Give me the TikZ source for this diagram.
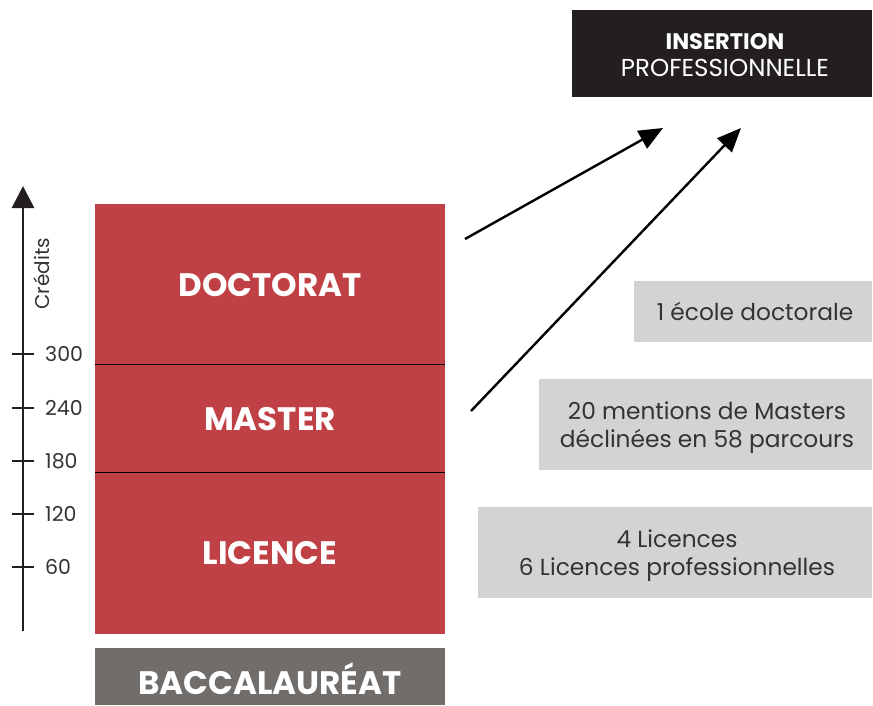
\documentclass[tikz,border=0pt]{standalone}
\usepackage{fontspec}
\setmainfont{Poppins}
\usetikzlibrary{arrows.meta}
\definecolor{cred}{HTML}{C04145}
\definecolor{cbac}{HTML}{706D6B}
\definecolor{cdark}{HTML}{231F20}
\definecolor{cgray}{HTML}{D3D3D5}
\definecolor{ctext}{HTML}{333333}
\begin{document}
\begin{tikzpicture}[x=1pt,y=-1pt,
  level/.style={font=\fontsize{32.5}{34}\selectfont\bfseries, text=white, inner sep=0pt},
  infobox/.style={fill=cgray, inner sep=0pt},
  infotext/.style={text=ctext, font=\fontsize{23.3}{28}\selectfont, align=center, inner sep=0pt},
  tick/.style={line width=1.6pt, cdark},
  ticklabel/.style={anchor=west, font=\fontsize{20.5}{22}\selectfont, text=ctext, inner sep=0pt},
  bigarrow/.style={line width=2.4pt, -{Triangle[length=24pt,width=20pt]}}
]
\useasboundingbox (0,0) rectangle (873,705);
% red stack
\fill[cred] (95,204) rectangle (445,634);
\draw[line width=1pt] (95,364) -- (445,364);
\draw[line width=1pt] (95,472) -- (445,472);
\node[level] (doc) at (270,285) {DOCTORAT};
\node[level] (mas) at (270,419) {MASTER};
\node[level] (lic) at (270,553) {LICENCE};
% bac
\fill[cbac] (95,648) rectangle (445,705);
\node[level] (bac) at (270,679) {BACCALAURÉAT};
% axis
\coordinate (ax0) at (23,631);
\coordinate (ax1) at (23,186);
\draw[line width=2.6pt, cdark, -{Triangle[length=22pt,width=22pt]}] (ax0) -- (ax1);
\foreach \v/\y in {300/354,240/408,180/461,120/514,60/567}{
  \draw[tick] (12,\y) -- (34,\y);
  \node[ticklabel] at (45,\y) {\v};
}
\node[rotate=90, font=\fontsize{20}{22}\selectfont, text=ctext] (cred) at (42,274) {Crédits};
% top box
\node[fill=cdark, minimum width=300pt, minimum height=87pt, inner sep=0pt] (ins) at (722,53.5) {};
\node[text=white, font=\fontsize{22.5}{24}\selectfont\bfseries] (ins1) at (725,42) {INSERTION};
\node[text=white, font=\fontsize{24.5}{26}\selectfont] (ins2) at (725,68) {PROFESSIONNELLE};
% arrows
\coordinate (a1s) at (465,239);
\coordinate (a1e) at (663,128);
\coordinate (a2s) at (471,411);
\coordinate (a2e) at (741,128);
\draw[bigarrow] (a1s) -- (a1e);
\draw[bigarrow] (a2s) -- (a2e);
% info boxes
\node[infobox, minimum width=238pt, minimum height=61pt] (i1) at (753,311.5) {};
\node[infotext] (t1) at (755,311) {1 école doctorale};
\node[infobox, minimum width=333pt, minimum height=91pt] (i2) at (705.5,424.5) {};
\node[infotext] (t2) at (707,427.5) {20 mentions de Masters\\déclinées en 58 parcours};
\node[infobox, minimum width=394pt, minimum height=91pt] (i3) at (675,552.5) {};
\node[infotext] (t3) at (677,556) {4 Licences\\6 Licences professionnelles};
\end{tikzpicture}
\end{document}
